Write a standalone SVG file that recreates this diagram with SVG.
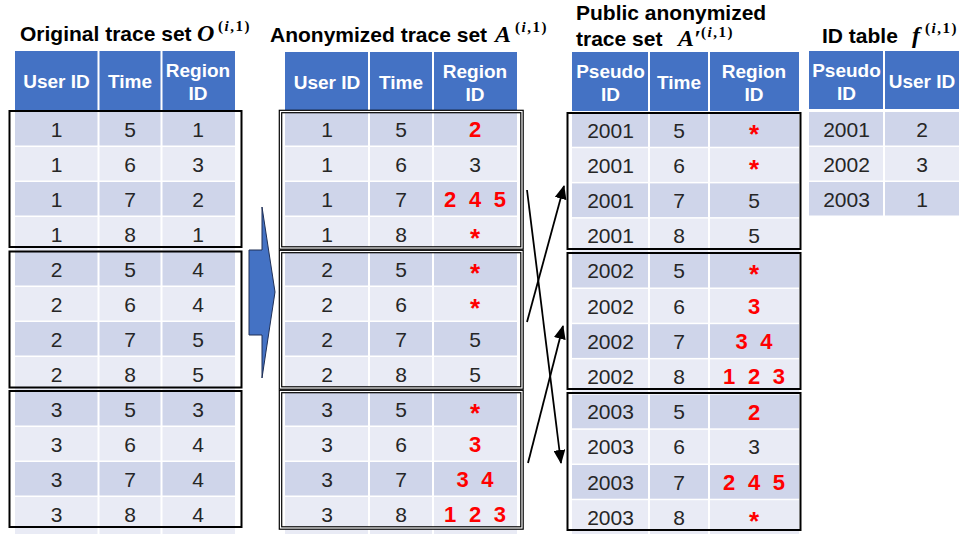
<svg xmlns="http://www.w3.org/2000/svg" width="959" height="534" viewBox="0 0 959 534">
<defs>
<style>
.hdr{fill:#4472C4}
.dk{fill:#CFD5EA}
.lt{fill:#E9EBF5}
.sep{stroke:#fff;stroke-width:2}
.ht{font-family:"Liberation Sans",Arial,sans-serif;font-weight:bold;font-size:19px;fill:#fff;text-anchor:middle}
.t{font-family:"Liberation Sans",Arial,sans-serif;font-size:21px;fill:#262626;text-anchor:middle}
.r{font-family:"Liberation Sans",Arial,sans-serif;font-weight:bold;font-size:22px;fill:#FF0000;text-anchor:middle;word-spacing:6.5px}
.ast{font-family:"Liberation Sans",Arial,sans-serif;font-weight:bold;font-size:26px;fill:#FF0000;text-anchor:middle}
.ttl{font-family:"Liberation Sans",Arial,sans-serif;font-weight:bold;font-size:21px;fill:#000}
.m{font-family:"Liberation Serif","Times New Roman",serif;font-style:italic;font-weight:bold;font-size:24px}
.sup{font-family:"Liberation Serif","Times New Roman",serif;font-weight:bold;font-size:15px;letter-spacing:1.5px}
.it{font-style:italic}
.box{fill:none;stroke:#000;stroke-width:2}
.dbl{fill:none;stroke:#000;stroke-width:3.6}
.dbl2{fill:none;stroke:#fff;stroke-width:1.2}
.con{fill:none;stroke:#000;stroke-width:1.8}
</style>
<marker id="ah" markerUnits="userSpaceOnUse" markerWidth="14" markerHeight="12" viewBox="0 0 14 12" refX="13" refY="6" orient="auto">
<path d="M0,0 L14,6 L0,12 z" fill="#000"/>
</marker>
</defs>
<rect width="959" height="534" fill="#fff"/>

<!-- Titles -->
<g id="titles">
<text class="ttl" x="20" y="41">Original trace set <tspan class="m" x="197">O</tspan><tspan class="sup" x="218" y="31">(<tspan class="it">i</tspan>,1)</tspan></text>
<text class="ttl" x="270" y="42">Anonymized trace set <tspan class="m" x="495">A</tspan><tspan class="sup" x="515" y="32">(<tspan class="it">i</tspan>,1)</tspan></text>
<text class="ttl" x="576" y="20">Public anonymized</text>
<text class="ttl" x="576" y="46">trace set  <tspan class="m" x="678">A′</tspan><tspan class="sup" x="701" y="37">(<tspan class="it">i</tspan>,1)</tspan></text>
<text class="ttl" x="822" y="43">ID table <tspan class="m" x="912">f</tspan><tspan class="sup" x="925" y="33">(<tspan class="it">i</tspan>,1)</tspan></text>
</g>

<!-- Table 1: Original trace set -->
<g id="table-original">
<rect class="hdr" x="15" y="51" width="220" height="59"/>
<rect class="dk" x="15" y="112" width="220" height="33.5"/>
<rect class="lt" x="15" y="147" width="220" height="33.5"/>
<rect class="dk" x="15" y="182" width="220" height="33.5"/>
<rect class="lt" x="15" y="217" width="220" height="33.5"/>
<rect class="dk" x="15" y="252" width="220" height="33.5"/>
<rect class="lt" x="15" y="287" width="220" height="33.5"/>
<rect class="dk" x="15" y="322" width="220" height="33.5"/>
<rect class="lt" x="15" y="357" width="220" height="33.5"/>
<rect class="dk" x="15" y="392" width="220" height="33.5"/>
<rect class="lt" x="15" y="427" width="220" height="33.5"/>
<rect class="dk" x="15" y="462" width="220" height="33.5"/>
<rect class="lt" x="15" y="497" width="220" height="37"/>
<line class="sep" x1="98.5" y1="51" x2="98.5" y2="534"/>
<line class="sep" x1="161.5" y1="51" x2="161.5" y2="534"/>
<text class="ht" x="56.5" y="88">User ID</text>
<text class="ht" x="130" y="88">Time</text>
<text class="ht" x="198" y="77">Region</text>
<text class="ht" x="198" y="100">ID</text>
<g id="orig-user1">
<text class="t" x="56.5" y="136.5">1</text><text class="t" x="130" y="136.5">5</text><text class="t" x="198" y="136.5">1</text>
<text class="t" x="56.5" y="171.5">1</text><text class="t" x="130" y="171.5">6</text><text class="t" x="198" y="171.5">3</text>
<text class="t" x="56.5" y="206.5">1</text><text class="t" x="130" y="206.5">7</text><text class="t" x="198" y="206.5">2</text>
<text class="t" x="56.5" y="241.5">1</text><text class="t" x="130" y="241.5">8</text><text class="t" x="198" y="241.5">1</text>
<rect class="box" x="9.5" y="111" width="232" height="136"/>
</g>
<g id="orig-user2">
<text class="t" x="56.5" y="276.5">2</text><text class="t" x="130" y="276.5">5</text><text class="t" x="198" y="276.5">4</text>
<text class="t" x="56.5" y="311.5">2</text><text class="t" x="130" y="311.5">6</text><text class="t" x="198" y="311.5">4</text>
<text class="t" x="56.5" y="346.5">2</text><text class="t" x="130" y="346.5">7</text><text class="t" x="198" y="346.5">5</text>
<text class="t" x="56.5" y="381.5">2</text><text class="t" x="130" y="381.5">8</text><text class="t" x="198" y="381.5">5</text>
<rect class="box" x="9.5" y="251.5" width="232" height="136"/>
</g>
<g id="orig-user3">
<text class="t" x="56.5" y="416.5">3</text><text class="t" x="130" y="416.5">5</text><text class="t" x="198" y="416.5">3</text>
<text class="t" x="56.5" y="451.5">3</text><text class="t" x="130" y="451.5">6</text><text class="t" x="198" y="451.5">4</text>
<text class="t" x="56.5" y="486.5">3</text><text class="t" x="130" y="486.5">7</text><text class="t" x="198" y="486.5">4</text>
<text class="t" x="56.5" y="521.5">3</text><text class="t" x="130" y="521.5">8</text><text class="t" x="198" y="521.5">4</text>
<rect class="box" x="9.5" y="391" width="232" height="136"/>
</g>
</g>

<!-- Block arrow -->
<g id="anonymize-arrow">
<polygon points="249,250 262,250 262,207 275,292 262,378 262,335 249,335" fill="#4472C4" stroke="#1F2F55" stroke-width="1"/>
</g>

<!-- Table 2: Anonymized trace set -->
<g id="table-anonymized">
<rect class="hdr" x="285" y="52" width="232" height="58"/>
<rect class="dk" x="285" y="112" width="232" height="33.5"/>
<rect class="lt" x="285" y="147" width="232" height="33.5"/>
<rect class="dk" x="285" y="182" width="232" height="33.5"/>
<rect class="lt" x="285" y="217" width="232" height="33.5"/>
<rect class="dk" x="285" y="252" width="232" height="33.5"/>
<rect class="lt" x="285" y="287" width="232" height="33.5"/>
<rect class="dk" x="285" y="322" width="232" height="33.5"/>
<rect class="lt" x="285" y="357" width="232" height="33.5"/>
<rect class="dk" x="285" y="392" width="232" height="33.5"/>
<rect class="lt" x="285" y="427" width="232" height="33.5"/>
<rect class="dk" x="285" y="462" width="232" height="33.5"/>
<rect class="lt" x="285" y="497" width="232" height="37"/>
<line class="sep" x1="369" y1="52" x2="369" y2="534"/>
<line class="sep" x1="433" y1="52" x2="433" y2="534"/>
<text class="ht" x="327" y="89">User ID</text>
<text class="ht" x="401" y="89">Time</text>
<text class="ht" x="475" y="78">Region</text>
<text class="ht" x="475" y="101">ID</text>
<g id="anon-user1">
<text class="t" x="327" y="136.5">1</text><text class="t" x="401" y="136.5">5</text><text class="r" x="475" y="137">2</text>
<text class="t" x="327" y="171.5">1</text><text class="t" x="401" y="171.5">6</text><text class="t" x="475" y="171.5">3</text>
<text class="t" x="327" y="206.5">1</text><text class="t" x="401" y="206.5">7</text><text class="r" x="475" y="207">2 4 5</text>
<text class="t" x="327" y="241.5">1</text><text class="t" x="401" y="241.5">8</text><text class="ast" x="475" y="246.5">*</text>
<rect class="dbl" x="280.5" y="111.5" width="241.5" height="136.5"/>
<rect class="dbl2" x="280.5" y="111.5" width="241.5" height="136.5"/>
</g>
<g id="anon-user2">
<text class="t" x="327" y="276.5">2</text><text class="t" x="401" y="276.5">5</text><text class="ast" x="475" y="281.5">*</text>
<text class="t" x="327" y="311.5">2</text><text class="t" x="401" y="311.5">6</text><text class="ast" x="475" y="316.5">*</text>
<text class="t" x="327" y="346.5">2</text><text class="t" x="401" y="346.5">7</text><text class="t" x="475" y="346.5">5</text>
<text class="t" x="327" y="381.5">2</text><text class="t" x="401" y="381.5">8</text><text class="t" x="475" y="381.5">5</text>
<rect class="dbl" x="280.5" y="251.5" width="241.5" height="136.5"/>
<rect class="dbl2" x="280.5" y="251.5" width="241.5" height="136.5"/>
</g>
<g id="anon-user3">
<text class="t" x="327" y="416.5">3</text><text class="t" x="401" y="416.5">5</text><text class="ast" x="475" y="421.5">*</text>
<text class="t" x="327" y="451.5">3</text><text class="t" x="401" y="451.5">6</text><text class="r" x="475" y="452">3</text>
<text class="t" x="327" y="486.5">3</text><text class="t" x="401" y="486.5">7</text><text class="r" x="475" y="487">3 4</text>
<text class="t" x="327" y="521.5">3</text><text class="t" x="401" y="521.5">8</text><text class="r" x="475" y="522">1 2 3</text>
<rect class="dbl" x="280.5" y="391.5" width="241.5" height="136.5"/>
<rect class="dbl2" x="280.5" y="391.5" width="241.5" height="136.5"/>
</g>
</g>

<!-- Table 3: Public anonymized trace set -->
<g id="table-public">
<rect class="hdr" x="572" y="52" width="227" height="59"/>
<rect class="dk" x="572" y="113" width="227" height="33.7"/>
<rect class="lt" x="572" y="148.2" width="227" height="33.7"/>
<rect class="dk" x="572" y="183.4" width="227" height="33.7"/>
<rect class="lt" x="572" y="218.6" width="227" height="33.7"/>
<rect class="dk" x="572" y="253.8" width="227" height="33.7"/>
<rect class="lt" x="572" y="289" width="227" height="33.7"/>
<rect class="dk" x="572" y="324.2" width="227" height="33.7"/>
<rect class="lt" x="572" y="359.4" width="227" height="33.7"/>
<rect class="dk" x="572" y="394.6" width="227" height="33.7"/>
<rect class="lt" x="572" y="429.8" width="227" height="33.7"/>
<rect class="dk" x="572" y="465" width="227" height="33.7"/>
<rect class="lt" x="572" y="500.2" width="227" height="33.8"/>
<line class="sep" x1="649" y1="52" x2="649" y2="534"/>
<line class="sep" x1="709" y1="52" x2="709" y2="534"/>
<text class="ht" x="610.5" y="78">Pseudo</text>
<text class="ht" x="610.5" y="101">ID</text>
<text class="ht" x="679" y="89">Time</text>
<text class="ht" x="754" y="78">Region</text>
<text class="ht" x="754" y="101">ID</text>
<g id="pub-2001">
<text class="t" x="610.5" y="137.5">2001</text><text class="t" x="679" y="137.5">5</text><text class="ast" x="754" y="142.5">*</text>
<text class="t" x="610.5" y="172.7">2001</text><text class="t" x="679" y="172.7">6</text><text class="ast" x="754" y="177.7">*</text>
<text class="t" x="610.5" y="207.9">2001</text><text class="t" x="679" y="207.9">7</text><text class="t" x="754" y="207.9">5</text>
<text class="t" x="610.5" y="243.1">2001</text><text class="t" x="679" y="243.1">8</text><text class="t" x="754" y="243.1">5</text>
<rect class="box" x="567.5" y="113" width="233" height="136"/>
</g>
<g id="pub-2002">
<text class="t" x="610.5" y="278.3">2002</text><text class="t" x="679" y="278.3">5</text><text class="ast" x="754" y="283.3">*</text>
<text class="t" x="610.5" y="313.5">2002</text><text class="t" x="679" y="313.5">6</text><text class="r" x="754" y="314">3</text>
<text class="t" x="610.5" y="348.7">2002</text><text class="t" x="679" y="348.7">7</text><text class="r" x="754" y="349.2">3 4</text>
<text class="t" x="610.5" y="383.9">2002</text><text class="t" x="679" y="383.9">8</text><text class="r" x="754" y="384.4">1 2 3</text>
<rect class="box" x="567.5" y="253" width="233" height="136"/>
</g>
<g id="pub-2003">
<text class="t" x="610.5" y="419.1">2003</text><text class="t" x="679" y="419.1">5</text><text class="r" x="754" y="419.6">2</text>
<text class="t" x="610.5" y="454.3">2003</text><text class="t" x="679" y="454.3">6</text><text class="t" x="754" y="454.3">3</text>
<text class="t" x="610.5" y="489.5">2003</text><text class="t" x="679" y="489.5">7</text><text class="r" x="754" y="490">2 4 5</text>
<text class="t" x="610.5" y="524.7">2003</text><text class="t" x="679" y="524.7">8</text><text class="ast" x="754" y="529.7">*</text>
<rect class="box" x="567.5" y="393" width="233" height="137"/>
</g>
</g>

<!-- Table 4: ID table -->
<g id="table-id">
<rect class="hdr" x="809" y="51" width="153" height="58"/>
<rect class="dk" x="809" y="112" width="153" height="33.5"/>
<rect class="lt" x="809" y="147" width="153" height="33.5"/>
<rect class="dk" x="809" y="182" width="153" height="33.5"/>
<line class="sep" x1="884" y1="51" x2="884" y2="216"/>
<text class="ht" x="846.5" y="77">Pseudo</text>
<text class="ht" x="846.5" y="100">ID</text>
<text class="ht" x="922" y="88">User ID</text>
<text class="t" x="846.5" y="136.5">2001</text><text class="t" x="922" y="136.5">2</text>
<text class="t" x="846.5" y="171.5">2002</text><text class="t" x="922" y="171.5">3</text>
<text class="t" x="846.5" y="206.5">2003</text><text class="t" x="922" y="206.5">1</text>
</g>

<!-- Connectors -->
<g id="connectors">
<line class="con" x1="527" y1="322" x2="564" y2="186" marker-end="url(#ah)"/>
<line class="con" x1="527" y1="190" x2="561" y2="463" marker-end="url(#ah)"/>
<line class="con" x1="528" y1="463" x2="563" y2="326" marker-end="url(#ah)"/>
</g>
</svg>
